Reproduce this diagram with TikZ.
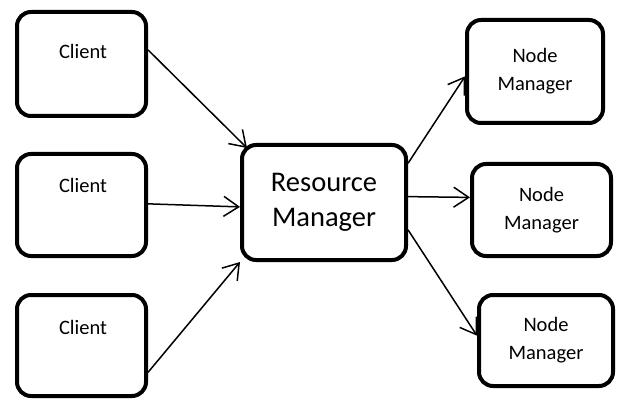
\documentclass[tikz,border=0pt]{standalone}
\usepackage{fontspec}
\setmainfont{Carlito}
\usetikzlibrary{calc,arrows.meta}
\tikzset{
	box/.style={draw, line width=4pt, rounded corners=14pt, align=center, inner sep=0pt},
	small/.style={font=\fontsize{20.5}{28}\selectfont},
	big/.style={font=\fontsize{28.5}{35}\selectfont},
	link/.style={line width=1.5pt, -{Straight Barb[length=15pt, width=20pt, line width=1.5pt]}}
}

\begin{document}
\begin{tikzpicture}[x=1pt, y=-1pt]
			%%%%% START %%%%%
			\useasboundingbox[fill=white] (0, 0) rectangle (620, 403);
			
			\node[box, minimum width=129pt, minimum height=104pt] (c1) at (81.5, 64) {};
			\node[small, anchor=base] (c1t) at (83, 59) {Client};
			
			\node[box, minimum width=129pt, minimum height=102pt] (c2) at (81.5, 205) {};
			\node[small, anchor=base] (c2t) at (83, 193) {Client};
			
			\node[box, minimum width=129pt, minimum height=101pt] (c3) at (81.5, 345.5) {};
			\node[small, anchor=base] (c3t) at (83, 334) {Client};
			
			\node[box, big, minimum width=164pt, minimum height=115pt] (rm) at (324, 202.5) {Resource\\Manager};
			
			\node[box, small, minimum width=136pt, minimum height=103pt] (nm1) at (535, 71.5) {Node\\Manager};
			\node[box, small, minimum width=139pt, minimum height=92pt] (nm2) at (541.5, 210) {Node\\Manager};
			\node[box, small, minimum width=134pt, minimum height=91pt] (nm3) at (546, 340.5) {Node\\Manager};
			
			\draw[link] (c1.12) -- ($(rm.north west)+(7, 5)$);
			\draw[link] (c2.1) -- (rm.183);
			\draw[link] (c3.-22) -- (rm.south west);
			
			\draw[link] (rm.25) -- (nm1.184);
			\draw[link] (rm.4) -- (nm2.170);
			\draw[link] (rm.-18) -- (nm3.176);
			
			%%%%% END %%%%%
		\end{tikzpicture}
\end{document}
